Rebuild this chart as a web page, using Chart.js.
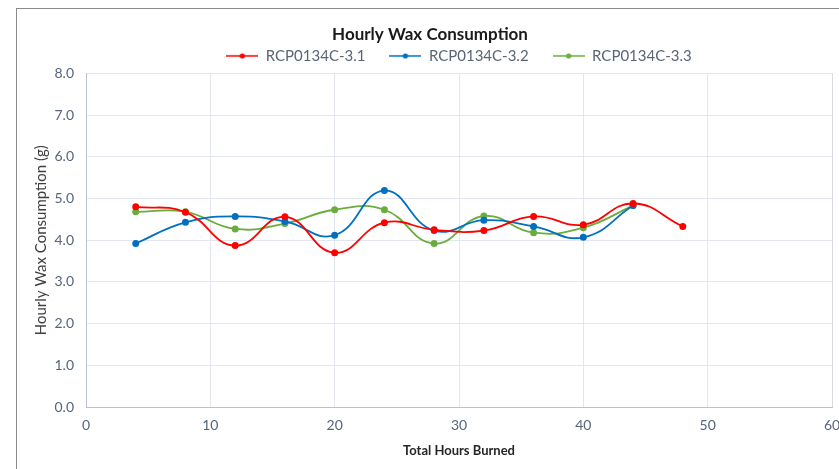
<!DOCTYPE html>
<html>
<head>
<meta charset="utf-8">
<script src="https://cdn.jsdelivr.net/npm/chart.js@4.4.0/dist/chart.umd.min.js"></script>
<style>
  html, body { margin: 0; padding: 0; background: #fff; overflow: hidden; }
  #wrap { position: relative; width: 839px; height: 469px; overflow: hidden; }
  #frame { position: absolute; left: 16px; top: 8px; width: 900px; height: 520px; border: 1px solid #8c8c8c; box-sizing: border-box; }
  #holder { position: absolute; left: 0; top: 0; width: 860px; height: 469px; }
</style>
</head>
<body>
<div id="wrap">
  <div id="frame"></div>
  <div id="holder"><canvas id="myChart" width="860" height="469"></canvas></div>
</div>
<script>
var hours31 = [4, 8, 12, 16, 20, 24, 28, 32, 36, 40, 44, 48];
var wax31 = [4.80, 4.67, 3.87, 4.56, 3.70, 4.42, 4.25, 4.23, 4.57, 4.37, 4.88, 4.33];

var hours32 = [4, 8, 12, 16, 20, 24, 28, 32, 36, 40, 44];
var wax32 = [3.92, 4.43, 4.57, 4.45, 4.12, 5.19, 4.23, 4.48, 4.33, 4.07, 4.83];

var hours33 = [4, 8, 12, 16, 20, 24, 28, 32, 36, 40, 44];
var wax33 = [4.68, 4.68, 4.27, 4.40, 4.73, 4.73, 3.92, 4.58, 4.18, 4.30, 4.83];

var seriesNames = ["RCP0134C-3.1", "RCP0134C-3.2", "RCP0134C-3.3"];
var seriesColors = ["#ff0000", "#0070c0", "#6aad3d"];
var xTicks = [0, 10, 20, 30, 40, 50, 60];
var yTicks = [0, 1, 2, 3, 4, 5, 6, 7, 8];

var fontFamily = "Lato, 'Open Sans', sans-serif";
var tickColor = "#56657a";

function toPoints(xs, ys) {
    return xs.map(function (x, i) { return { x: x, y: ys[i] }; });
}

// legend swatch: short line with a dot in the middle
function legendIcon(color) {
    var c = document.createElement("canvas");
    c.width = 32; c.height = 10;
    var g = c.getContext("2d");
    g.strokeStyle = color;
    g.lineWidth = 1.5;
    g.beginPath(); g.moveTo(0, 5); g.lineTo(32, 5); g.stroke();
    g.fillStyle = color;
    g.beginPath(); g.arc(16, 5, 2.6, 0, Math.PI * 2); g.fill();
    return c;
}

var allHours = [hours31, hours32, hours33];
var allWax = [wax31, wax32, wax33];

var datasets = seriesNames.map(function (name, i) {
    return {
        label: name,
        data: toPoints(allHours[i], allWax[i]),
        borderColor: seriesColors[i],
        backgroundColor: seriesColors[i],
        borderWidth: 1.8,
        pointRadius: 2.6,
        pointHoverRadius: 3,
        showLine: true,
        tension: 0.45
    };
});

var ctx = document.getElementById("myChart").getContext("2d");
var chart = new Chart(ctx, {
    type: "scatter",
    data: { datasets: datasets },
    options: {
        responsive: false,
        animation: false,
        layout: { padding: { left: 28, right: 28, top: 20, bottom: 6 } },
        plugins: {
            tooltip: { enabled: false },
            title: {
                display: true,
                text: "Hourly Wax Consumption",
                color: "#1a1a1a",
                font: { family: fontFamily, size: 17, weight: "bold" },
                padding: { top: 4, bottom: -20 }
            },
            legend: {
                position: "top",
                fullSize: false,
                labels: {
                    color: "#5b6577",
                    font: { family: fontFamily, size: 15 },
                    usePointStyle: true,
                    pointStyleWidth: 32,
                    boxHeight: 10,
                    padding: 24,
                    generateLabels: function (ch) {
                        return ch.data.datasets.map(function (ds, i) {
                            return {
                                text: ds.label,
                                fontColor: "#5b6577",
                                pointStyle: legendIcon(ds.borderColor),
                                strokeStyle: ds.borderColor,
                                fillStyle: ds.borderColor,
                                lineWidth: 0,
                                hidden: false,
                                datasetIndex: i
                            };
                        });
                    }
                }
            }
        },
        scales: {
            x: {
                type: "linear",
                min: 0,
                max: 60,
                afterBuildTicks: function (axis) {
                    axis.ticks = xTicks.map(function (v) { return { value: v }; });
                },
                afterFit: function (axis) { axis.height = 56; },
                grid: { color: "#e3e6ee", drawTicks: false },
                border: { color: "#b8c2d2" },
                ticks: {
                    color: tickColor,
                    padding: 10,
                    font: { family: fontFamily, size: 14 }
                },
                title: {
                    display: true,
                    text: "Total Hours Burned",
                    color: "#262626",
                    font: { family: fontFamily, size: 13, weight: "bold" },
                    padding: { top: 10 }
                }
            },
            y: {
                min: 0,
                max: 8,
                afterBuildTicks: function (axis) {
                    axis.ticks = yTicks.map(function (v) { return { value: v }; });
                },
                afterFit: function (axis) { axis.width = 58; },
                grid: { color: "#e3e6ee", drawTicks: false },
                border: { color: "#b8c2d2" },
                ticks: {
                    color: tickColor,
                    padding: 12,
                    font: { family: fontFamily, size: 14 },
                    callback: function (v) { return Number(v).toFixed(1); }
                },
                title: {
                    display: true,
                    text: "Hourly Wax Consumption (g)",
                    color: "#404040",
                    font: { family: fontFamily, size: 15 },
                    padding: { bottom: 2 }
                }
            }
        }
    },
    plugins: [{
        id: "plotBorder",
        afterDraw: function (ch) {
            var a = ch.chartArea, g = ch.ctx;
            g.save();
            g.strokeStyle = "#d5dae4";
            g.lineWidth = 1;
            g.beginPath();
            g.moveTo(a.right + 0.5, a.top);
            g.lineTo(a.right + 0.5, a.bottom);
            g.stroke();
            g.restore();
        }
    }]
});
</script>
</body>
</html>
